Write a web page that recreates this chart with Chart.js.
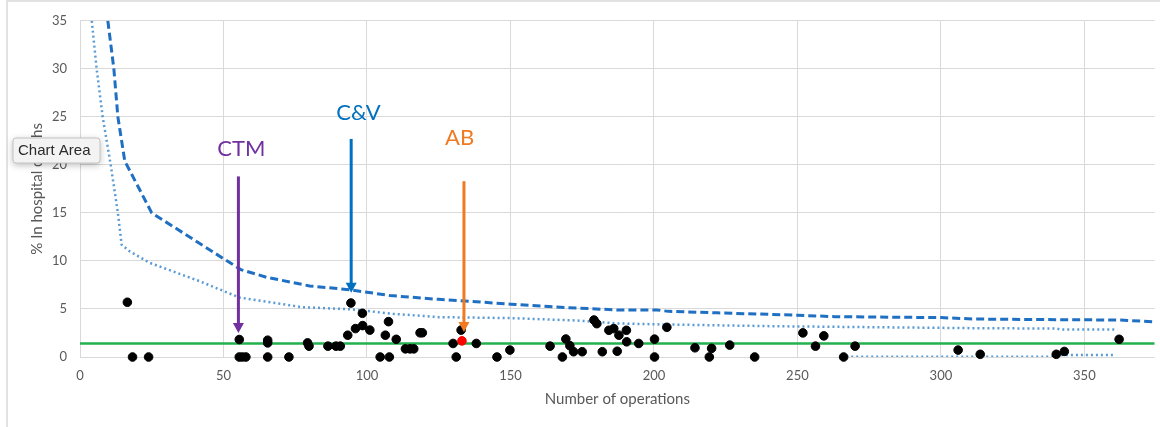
<!DOCTYPE html>
<html><head><meta charset="utf-8">
<script src="https://cdn.jsdelivr.net/npm/chart.js@4.4.1/dist/chart.umd.min.js"></script>
<style>html,body{margin:0;padding:0;background:#fff;}canvas{display:block;}</style>
</head><body>
<canvas id="c" width="1160" height="427"></canvas>
<script>
// ---- data ----
const opsX = [16.5,18.3,23.9,55.5,55.5,56.6,57.8,65.4,65.4,65.4,72.8,79.3,79.8,86.4,89.2,90.7,93.3,94.4,96,98.4,98.5,101,104.6,106.4,107.5,107.8,110.2,113.4,115,116.3,118.5,119.3,130,131.1,132.8,138.1,145.3,149.8,163.8,168.1,169.3,170.7,172,175,179.1,180.1,182,184.3,186,187.2,187.8,190.4,190.5,194.7,200.2,200.2,204.5,214.3,219.3,220.1,226.4,235.1,251.9,256.3,259.2,266.1,270.1,306,313.7,340.2,343,362.1];
const deathPct = [5.7,0,0,1.82,0,0,0,1.75,1.47,0,0,1.47,1.13,1.13,1.13,1.13,2.27,5.62,2.96,4.55,3.27,2.8,0,2.27,3.68,0,1.84,0.85,0.85,0.85,2.52,2.52,1.41,0,2.8,1.41,0,0.72,1.13,0,1.87,1.18,0.55,0.55,3.85,3.47,0.55,2.78,2.96,0.6,2.27,2.78,1.58,1.41,1.86,0,3.09,0.96,0,0.9,1.24,0,2.51,1.13,2.2,0,1.13,0.72,0.28,0.28,0.58,1.84];
const highlightOps = [133.1];
const highlightPct = [1.68];
const averageRate = 1.4;
const upperDashedOps = [9.7,11.8,13.2,15.6,25,56,65,80,94,108,125,136,150,166,187,201,205,222,250,263,300,312,335,362,375];
const upperDashedPct = [35,30,25,20.4,15,9.1,8.3,7.4,7.0,6.4,6.0,5.8,5.5,5.2,4.9,4.9,4.75,4.6,4.35,4.2,4.1,3.95,3.9,3.85,3.65];
const upperDottedOps = [4.1,5.8,7.9,10.7,13.2,14.5,17.3,24.3,41.6,55.5,62,77,95,109,125,150,173,187,201,243,312,340.5,341.5,361.5];
const upperDottedPct = [35,30,25,20,15,11.7,11.0,9.8,7.9,6.2,5.9,5.2,4.95,4.5,4.15,4.05,3.8,3.5,3.4,3.2,3.0,2.96,2.86,2.86];
const lowerDottedOps = [267,340,341.5,360.5];
const lowerDottedPct = [0.03,0.03,0.2,0.2];
const xTicks = [0,50,100,150,200,250,300,350];
const yTicks = [0,5,10,15,20,25,30,35];
const arrowLabels = ['CTM','C&V','AB'];
const arrowOps = [55.2,94.5,133.8];
const arrowTopPct = [18.8,22.7,18.3];
const arrowTipPct = [2.5,6.7,2.6];
const labelOps = [56.2,97,132.3];
const labelPct = [21.7,25.4,22.8];

// ---- styles ----
const arrowColors = ['#7030A0','#0070C0','#F07A22'];
const pts = (xs, ys) => xs.map((x, i) => ({x, y: ys[i]}));
const X_MAX = 374.5;

const overlay = {
  id: 'overlay',
  beforeDraw(chart) {
    const ctx = chart.ctx;
    ctx.save();
    ctx.fillStyle = '#fff';
    ctx.fillRect(0, 0, chart.width, chart.height);
    ctx.strokeStyle = '#d9d9d9';
    ctx.lineWidth = 1.5;
    ctx.beginPath();
    ctx.moveTo(7, 427); ctx.lineTo(7, 1); ctx.lineTo(1160, 1);
    ctx.stroke();
    ctx.restore();
  },
  afterDatasetsDraw(chart) {
    const ctx = chart.ctx, xs = chart.scales.x, ys = chart.scales.y;
    ctx.save();
    arrowLabels.forEach((lab, i) => {
      const x = xs.getPixelForValue(arrowOps[i]);
      const yt = ys.getPixelForValue(arrowTopPct[i]);
      const yp = ys.getPixelForValue(arrowTipPct[i]);
      ctx.strokeStyle = arrowColors[i];
      ctx.fillStyle = arrowColors[i];
      ctx.lineWidth = 3;
      ctx.beginPath(); ctx.moveTo(x, yt); ctx.lineTo(x, yp - 8); ctx.stroke();
      ctx.beginPath(); ctx.moveTo(x, yp); ctx.lineTo(x - 5.5, yp - 10); ctx.lineTo(x + 5.5, yp - 10); ctx.closePath(); ctx.fill();
      ctx.font = '22px Lato';
      ctx.textAlign = 'center'; ctx.textBaseline = 'middle';
      ctx.fillText(lab, xs.getPixelForValue(labelOps[i]), ys.getPixelForValue(labelPct[i]));
    });
    ctx.restore();
  },
  afterDraw(chart) {
    const ctx = chart.ctx;
    ctx.save();
    ctx.shadowColor = 'rgba(0,0,0,0.28)';
    ctx.shadowBlur = 7; ctx.shadowOffsetY = 2;
    ctx.fillStyle = '#f3f3f3';
    ctx.beginPath();
    ctx.roundRect(13, 138, 87, 25, 3);
    ctx.fill();
    ctx.shadowColor = 'transparent';
    ctx.strokeStyle = '#c4c4c4'; ctx.lineWidth = 1;
    ctx.stroke();
    ctx.fillStyle = '#2b2b2b';
    ctx.font = '15px "Liberation Sans"';
    ctx.textAlign = 'left'; ctx.textBaseline = 'middle';
    ctx.fillText('Chart Area', 18, 151);
    ctx.restore();
  }
};

const gridColor = '#d9d9d9', labelColor = '#595959';
new Chart(document.getElementById('c'), {
  type: 'scatter',
  data: {
    datasets: [
      {data: pts(highlightOps, highlightPct), backgroundColor: '#ff0000', borderColor: '#ff0000', pointRadius: 4.3, order: -1, clip: false},
      {data: pts(opsX, deathPct), backgroundColor: '#000', borderColor: '#000', pointRadius: 4.3, order: 0, clip: false},
      {data: pts([0, X_MAX], [averageRate, averageRate]), showLine: true, pointRadius: 0, borderColor: '#22B14C', borderWidth: 2.5, order: 3},
      {data: pts(upperDashedOps, upperDashedPct), showLine: true, pointRadius: 0, borderColor: '#1F6FC2', borderWidth: 3, borderDash: [8, 4], order: 2},
      {data: pts(upperDottedOps, upperDottedPct), showLine: true, pointRadius: 0, borderColor: '#5B9BD5', borderWidth: 2.5, borderDash: [2, 3], order: 2},
      {data: pts(lowerDottedOps, lowerDottedPct), showLine: true, pointRadius: 0, borderColor: '#5B9BD5', borderWidth: 2.5, borderDash: [2, 3], order: 2}
    ]
  },
  options: {
    responsive: false, animation: false, devicePixelRatio: 1,
    layout: {padding: {top: 17, right: 0, bottom: 0, left: 0}},
    plugins: {legend: {display: false}, tooltip: {enabled: false}},
    scales: {
      x: {
        type: 'linear', min: 0, max: X_MAX,
        afterBuildTicks: s => { s.ticks = xTicks.map(v => ({value: v})); },
        afterFit: s => { s.height = 70; },
        grid: {color: gridColor, lineWidth: 1, drawTicks: false},
        border: {display: false},
        ticks: {color: labelColor, font: {family: 'Lato', size: 13}, padding: 11, maxRotation: 0},
        title: {display: true, text: 'Number of operations', color: labelColor, font: {family: 'Lato', size: 15}, padding: {top: 0, bottom: 19}}
      },
      y: {
        type: 'linear', min: 0, max: 35,
        afterBuildTicks: s => { s.ticks = yTicks.map(v => ({value: v})); },
        afterFit: s => { s.width = 80; },
        grid: {color: gridColor, lineWidth: 1, drawTicks: false},
        border: {display: false},
        ticks: {color: labelColor, font: {family: 'Lato', size: 13}, padding: 13},
        title: {display: true, text: '% In hospital deaths', color: labelColor, font: {family: 'Lato', size: 15}, padding: {top: 28, bottom: 0}}
      }
    }
  },
  plugins: [overlay]
});
</script>
</body></html>
